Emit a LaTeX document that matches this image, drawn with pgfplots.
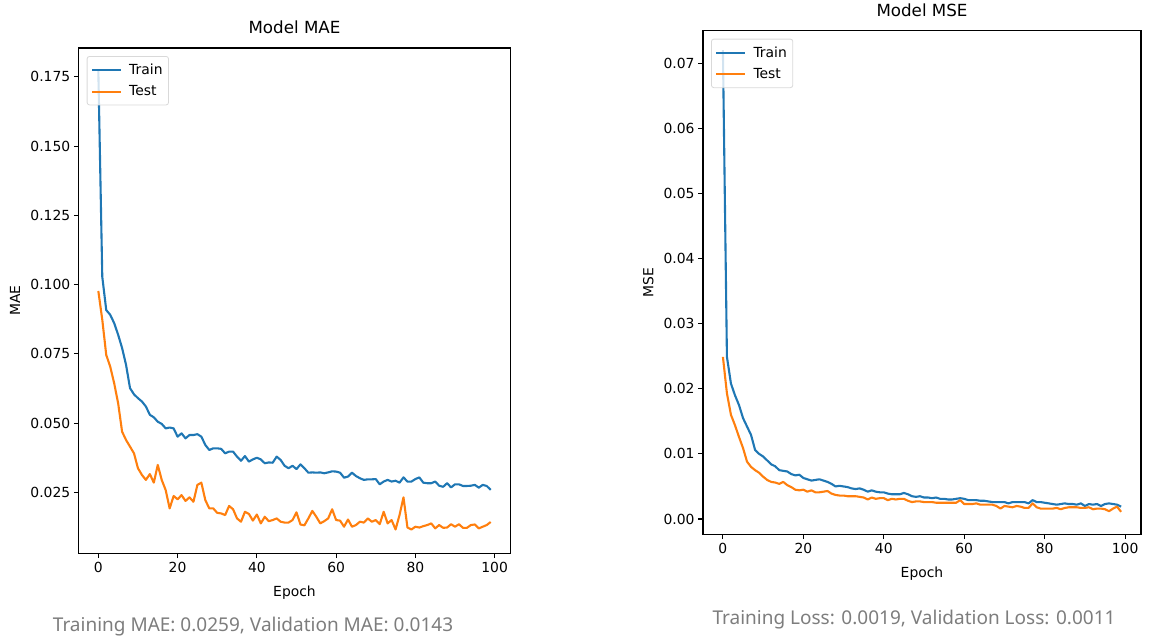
\documentclass[border=0pt]{standalone}
\usepackage{pgfplots}
\pgfplotsset{compat=1.18}
\usepackage{pgfplotstable}
\usepackage{fontspec}
\setmainfont{DejaVu Sans}
\newfontfamily\notefont{Noto Sans}
\definecolor{tabblue}{HTML}{1F77B4}
\definecolor{taborange}{HTML}{FF7F0E}
\definecolor{notegray}{RGB}{125,125,125}

\pgfplotstableread{
e tr te
0 0.1775 0.0977
1 0.1028 0.0873
2 0.0908 0.0746
3 0.0891 0.0704
4 0.0861 0.0644
5 0.0819 0.0572
6 0.0771 0.0469
7 0.0710 0.0439
8 0.0626 0.0415
9 0.0604 0.0391
10 0.0590 0.0337
11 0.0578 0.0313
12 0.0560 0.0295
13 0.0530 0.0316
14 0.0521 0.0285
15 0.0505 0.0349
16 0.0497 0.0295
17 0.0481 0.0258
18 0.0484 0.0192
19 0.0481 0.0237
20 0.0451 0.0225
21 0.0463 0.0240
22 0.0445 0.0219
23 0.0457 0.0232
24 0.0457 0.0216
25 0.0460 0.0277
26 0.0451 0.0285
27 0.0421 0.0222
28 0.0403 0.0192
29 0.0409 0.0192
30 0.0409 0.0176
31 0.0407 0.0174
32 0.0391 0.0168
33 0.0397 0.0201
34 0.0397 0.0189
35 0.0379 0.0156
36 0.0364 0.0144
37 0.0381 0.0180
38 0.0361 0.0172
39 0.0369 0.0148
40 0.0375 0.0170
41 0.0369 0.0138
42 0.0355 0.0162
43 0.0358 0.0146
44 0.0357 0.0150
45 0.0379 0.0156
46 0.0367 0.0144
47 0.0346 0.0141
48 0.0337 0.0141
49 0.0346 0.0150
50 0.0334 0.0178
51 0.0351 0.0134
52 0.0337 0.0131
53 0.0321 0.0156
54 0.0322 0.0183
55 0.0321 0.0162
56 0.0322 0.0138
57 0.0319 0.0146
58 0.0322 0.0156
59 0.0326 0.0189
60 0.0325 0.0150
61 0.0321 0.0148
62 0.0303 0.0126
63 0.0307 0.0152
64 0.0321 0.0126
65 0.0309 0.0132
66 0.0301 0.0144
67 0.0295 0.0141
68 0.0297 0.0156
69 0.0297 0.0144
70 0.0298 0.0150
71 0.0279 0.0135
72 0.0289 0.0180
73 0.0295 0.0138
74 0.0289 0.0150
75 0.0292 0.0116
76 0.0285 0.0168
77 0.0304 0.0232
78 0.0289 0.0123
79 0.0289 0.0116
80 0.0298 0.0126
81 0.0304 0.0123
82 0.0285 0.0128
83 0.0283 0.0132
84 0.0283 0.0138
85 0.0289 0.0120
86 0.0274 0.0132
87 0.0270 0.0122
88 0.0283 0.0123
89 0.0268 0.0135
90 0.0279 0.0126
91 0.0279 0.0135
92 0.0273 0.0122
93 0.0273 0.0122
94 0.0274 0.0132
95 0.0277 0.0134
96 0.0267 0.0120
97 0.0277 0.0126
98 0.0273 0.0132
99 0.0259 0.0143
}\maetable

\pgfplotstableread{
e tr te
0 0.0720 0.0249
1 0.0249 0.0193
2 0.0208 0.0160
3 0.0190 0.0144
4 0.0175 0.0126
5 0.0155 0.0109
6 0.0142 0.0088
7 0.0129 0.0080
8 0.0106 0.0075
9 0.0100 0.0071
10 0.0096 0.0065
11 0.0090 0.0060
12 0.0084 0.0057
13 0.0081 0.0056
14 0.0075 0.0054
15 0.0074 0.0057
16 0.0073 0.0052
17 0.0069 0.0049
18 0.0067 0.0045
19 0.0068 0.0044
20 0.0063 0.0045
21 0.0061 0.0042
22 0.0059 0.0044
23 0.0060 0.0041
24 0.0061 0.0041
25 0.0059 0.0042
26 0.0057 0.0043
27 0.0054 0.0039
28 0.0050 0.0037
29 0.0051 0.0036
30 0.0050 0.0036
31 0.0049 0.0035
32 0.0047 0.0035
33 0.0046 0.0035
34 0.0047 0.0034
35 0.0045 0.0033
36 0.0042 0.0030
37 0.0044 0.0033
38 0.0042 0.0031
39 0.0041 0.0032
40 0.0041 0.0032
41 0.0039 0.0029
42 0.0038 0.0031
43 0.0038 0.0030
44 0.0038 0.0031
45 0.0040 0.0031
46 0.0038 0.0028
47 0.0035 0.0026
48 0.0034 0.0027
49 0.0035 0.0027
50 0.0033 0.0026
51 0.0033 0.0026
52 0.0032 0.0026
53 0.0033 0.0025
54 0.0031 0.0025
55 0.0031 0.0025
56 0.0030 0.0025
57 0.0030 0.0025
58 0.0031 0.0025
59 0.0032 0.0029
60 0.0031 0.0023
61 0.0029 0.0023
62 0.0029 0.0023
63 0.0029 0.0024
64 0.0028 0.0022
65 0.0028 0.0022
66 0.0027 0.0022
67 0.0026 0.0022
68 0.0026 0.0020
69 0.0026 0.0016
70 0.0026 0.0020
71 0.0024 0.0019
72 0.0026 0.0018
73 0.0026 0.0020
74 0.0026 0.0019
75 0.0026 0.0017
76 0.0024 0.0017
77 0.0029 0.0024
78 0.0026 0.0018
79 0.0026 0.0016
80 0.0025 0.0016
81 0.0024 0.0016
82 0.0023 0.0016
83 0.0022 0.0017
84 0.0023 0.0015
85 0.0024 0.0017
86 0.0023 0.0018
87 0.0023 0.0018
88 0.0022 0.0018
89 0.0024 0.0017
90 0.0020 0.0017
91 0.0023 0.0018
92 0.0022 0.0015
93 0.0023 0.0016
94 0.0020 0.0016
95 0.0023 0.0015
96 0.0024 0.0012
97 0.0023 0.0016
98 0.0022 0.0019
99 0.0019 0.0011
}\msetable

\pgfplotsset{
  mplstyle/.style={
    scale only axis,
    axis line style={line width=1.1bp},
    every tick/.style={line width=1.1bp, black},
    major tick length=4.9bp,
    tick align=outside,
    xtick pos=bottom, ytick pos=left,
    tick label style={font=\fontsize{13.9bp}{16bp}\selectfont},
    /pgf/number format/assume math mode=true,
    xmin=-4.95, xmax=103.95,
    xtick={0,20,40,60,80,100},
    xlabel={Epoch},
    label style={font=\fontsize{13.9bp}{16bp}\selectfont},
    title style={font=\fontsize{16.7bp}{19bp}\selectfont, at={(axis description cs:0.5,1)}, anchor=base, yshift=8.3bp},
    legend style={at={(0,1)}, xshift=8bp, yshift=-8bp, anchor=north west,
      draw=black!15, line width=0.8bp, rounded corners=2.5bp, fill=white, fill opacity=0.8, text opacity=1,
      font=\fontsize{13.9bp}{16bp}\selectfont, inner xsep=4bp, inner ysep=5.5bp, row sep=5.9bp, column sep=5bp},
    legend cell align=left,
    legend image code/.code={\draw[#1] (0bp,0bp) -- (29bp,0bp);},
    every axis plot/.append style={line width=2.1bp, line join=round},
    scaled y ticks=false,
  }
}

\begin{document}
\begin{tikzpicture}
\path[use as bounding box] (0bp,0bp) rectangle (1171bp,-638bp);

\begin{axis}[mplstyle,
  at={(78.7bp,-48bp)}, anchor=north west,
  width=431.6bp, height=505.3bp,
  ymin=0.003, ymax=0.1854,
  ytick={0.025,0.050,0.075,0.100,0.125,0.150,0.175},
  yticklabel style={/pgf/number format/fixed, /pgf/number format/fixed zerofill, /pgf/number format/precision=3},
  title={Model MAE},
  ylabel={MAE},
  ylabel style={at={(axis description cs:-0.1476,0.5)}, anchor=center},
  xlabel style={at={(axis description cs:0.5,0)}, anchor=base, yshift=-43.4bp},
]
\addplot[tabblue] table[x=e, y=tr] {\maetable};
\addlegendentry{Train}
\addplot[taborange] table[x=e, y=te] {\maetable};
\addlegendentry{Test}
\end{axis}

\begin{axis}[mplstyle,
  at={(703bp,-30.7bp)}, anchor=north west,
  width=438bp, height=503.6bp,
  ymin=-0.00235, ymax=0.075,
  ytick={0,0.01,0.02,0.03,0.04,0.05,0.06,0.07},
  yticklabel style={/pgf/number format/fixed, /pgf/number format/fixed zerofill, /pgf/number format/precision=2},
  title={Model MSE},
  ylabel={MSE},
  ylabel style={at={(axis description cs:-0.1249,0.5)}, anchor=center},
  xlabel style={at={(axis description cs:0.5,0)}, anchor=base, yshift=-43bp},
]
\addplot[tabblue] table[x=e, y=tr] {\msetable};
\addlegendentry{Train}
\addplot[taborange] table[x=e, y=te] {\msetable};
\addlegendentry{Test}
\end{axis}

\node[anchor=base, text=notegray, font=\notefont\fontsize{19bp}{22bp}\selectfont] at (253bp,-631.7bp) {Training MAE: 0.0259, Validation MAE: 0.0143};
\node[anchor=base, text=notegray, font=\notefont\fontsize{19bp}{22bp}\selectfont] at (914bp,-624bp) {Training Loss: 0.0019, Validation Loss: 0.0011};
\end{tikzpicture}
\end{document}
